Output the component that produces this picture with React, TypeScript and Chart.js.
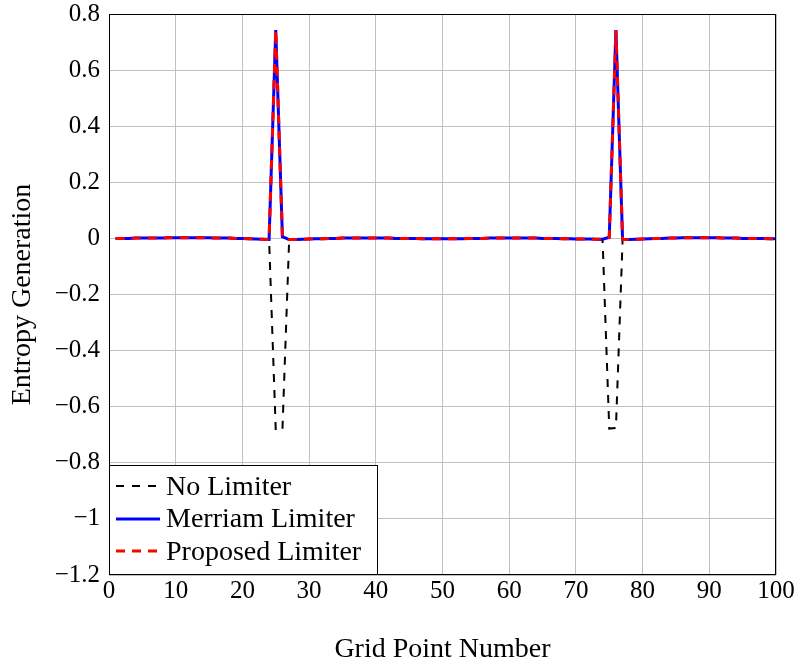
import React, { useEffect, useRef } from 'react';
import { Chart, registerables } from 'chart.js';

Chart.register(...registerables);

// Grid point indices along the x axis
const gridPoints = [
  1, 2, 3, 4, 5, 6, 7, 8, 9, 10,
  11, 12, 13, 14, 15, 16, 17, 18, 19, 20,
  21, 22, 23, 24, 25, 26, 27, 28, 29, 30,
  31, 32, 33, 34, 35, 36, 37, 38, 39, 40,
  41, 42, 43, 44, 45, 46, 47, 48, 49, 50,
  51, 52, 53, 54, 55, 56, 57, 58, 59, 60,
  61, 62, 63, 64, 65, 66, 67, 68, 69, 70,
  71, 72, 73, 74, 75, 76, 77, 78, 79, 80,
  81, 82, 83, 84, 85, 86, 87, 88, 89, 90,
  91, 92, 93, 94, 95, 96, 97, 98, 99, 100,
];

// Entropy generation without any limiter
const noLimiter = [
  0, 0, 0, 0.001, 0.001, 0.001, 0.001, 0.001, 0.002, 0.002,
  0.002, 0.002, 0.002, 0.002, 0.002, 0.001, 0.001, 0.001, 0, 0,
  -0.001, -0.002, -0.003, -0.004, -0.683, -0.683, -0.012, -0.004, -0.003, -0.002,
  -0.001, -0.001, 0, 0, 0.001, 0.001, 0.001, 0.001, 0.001, 0.001,
  0.001, 0.001, 0, 0, 0, 0, -0.001, -0.001, -0.001, -0.001,
  -0.001, -0.001, -0.001, 0, 0, 0, 0.001, 0.001, 0.001, 0.001,
  0.001, 0.001, 0.001, 0.001, 0, 0, 0, -0.001, -0.001, -0.002,
  -0.002, -0.002, -0.003, -0.006, -0.678, -0.676, -0.006, -0.004, -0.003, -0.002,
  -0.001, 0, 0, 0.001, 0.001, 0.002, 0.002, 0.002, 0.002, 0.002,
  0.002, 0.001, 0.001, 0.001, 0, 0, 0, 0, -0.001, -0.001,
];

// Entropy generation with the Merriam limiter
const merriamLimiter = [
  0, 0, 0, 0.001, 0.001, 0.001, 0.001, 0.001, 0.002, 0.002,
  0.002, 0.002, 0.002, 0.002, 0.002, 0.001, 0.001, 0.001, 0, 0,
  -0.001, -0.002, -0.003, -0.004, 0.743, 0.006, -0.004, -0.004, -0.003, -0.002,
  -0.001, -0.001, 0, 0, 0.001, 0.001, 0.001, 0.001, 0.001, 0.001,
  0.001, 0.001, 0, 0, 0, 0, -0.001, -0.001, -0.001, -0.001,
  -0.001, -0.001, -0.001, 0, 0, 0, 0.001, 0.001, 0.001, 0.001,
  0.001, 0.001, 0.001, 0.001, 0, 0, 0, -0.001, -0.001, -0.002,
  -0.002, -0.002, -0.003, -0.003, 0.004, 0.743, -0.004, -0.004, -0.003, -0.002,
  -0.001, 0, 0, 0.001, 0.001, 0.002, 0.002, 0.002, 0.002, 0.002,
  0.002, 0.001, 0.001, 0.001, 0, 0, 0, 0, -0.001, -0.001,
];

// Entropy generation with the proposed limiter
const proposedLimiter = [
  0, 0, 0, 0.001, 0.001, 0.001, 0.001, 0.001, 0.002, 0.002,
  0.002, 0.002, 0.002, 0.002, 0.002, 0.001, 0.001, 0.001, 0, 0,
  -0.001, -0.002, -0.003, -0.004, 0.743, 0.006, -0.004, -0.004, -0.003, -0.002,
  -0.001, -0.001, 0, 0, 0.001, 0.001, 0.001, 0.001, 0.001, 0.001,
  0.001, 0.001, 0, 0, 0, 0, -0.001, -0.001, -0.001, -0.001,
  -0.001, -0.001, -0.001, 0, 0, 0, 0.001, 0.001, 0.001, 0.001,
  0.001, 0.001, 0.001, 0.001, 0, 0, 0, -0.001, -0.001, -0.002,
  -0.002, -0.002, -0.003, -0.003, 0.004, 0.743, -0.004, -0.004, -0.003, -0.002,
  -0.001, 0, 0, 0.001, 0.001, 0.002, 0.002, 0.002, 0.002, 0.002,
  0.002, 0.001, 0.001, 0.001, 0, 0, 0, 0, -0.001, -0.001,
];

const xTickValues = [0, 10, 20, 30, 40, 50, 60, 70, 80, 90, 100];
const yTickValues = [0.8, 0.6, 0.4, 0.2, 0, -0.2, -0.4, -0.6, -0.8, -1, -1.2];

const seriesNames = ['No Limiter', 'Merriam Limiter', 'Proposed Limiter'];

const FONT = "'Liberation Serif', 'Times New Roman', serif";

const toPoints = (ys: number[]) => gridPoints.map((x, i) => ({ x, y: ys[i] }));

const formatTick = (v: number) => {
  const r = Math.round(v * 10) / 10;
  if (r === 0) return '0';
  const s = String(Math.abs(r));
  return r < 0 ? '\u2212' + s : s;
};

// Draws the closed plot frame and the boxed key in the lower-left corner
const frameAndKey = {
  id: 'frameAndKey',
  afterDraw(chart: any) {
    const { ctx, chartArea: a } = chart;
    ctx.save();
    ctx.strokeStyle = '#000';
    ctx.lineWidth = 1;
    ctx.strokeRect(a.left + 0.5, a.top + 0.5, a.right - a.left - 1, a.bottom - a.top - 1);

    const boxW = 269;
    const boxH = 110;
    const bx = a.left;
    const by = a.bottom - boxH;
    ctx.fillStyle = '#fff';
    ctx.fillRect(bx, by, boxW, boxH);
    ctx.strokeRect(bx + 0.5, by + 0.5, boxW - 1, boxH - 1);

    const lineRows = [21, 54, 86];
    const textRows = [29.5, 62, 95];
    chart.data.datasets.forEach((ds: any, i: number) => {
      const y = by + lineRows[i];
      ctx.beginPath();
      ctx.strokeStyle = ds.borderColor;
      ctx.lineWidth = ds.borderWidth;
      ctx.setLineDash(ds.borderDash || []);
      ctx.moveTo(bx + 7, y);
      ctx.lineTo(bx + 51, y);
      ctx.stroke();
      ctx.setLineDash([]);
      ctx.fillStyle = '#000';
      ctx.font = `28px ${FONT}`;
      ctx.textBaseline = 'alphabetic';
      ctx.textAlign = 'left';
      ctx.fillText(ds.label, bx + 57, by + textRows[i]);
    });
    ctx.restore();
  },
};

export default function App() {
  const canvasRef = useRef<HTMLCanvasElement | null>(null);

  useEffect(() => {
    document.body.style.margin = '0';
    const canvas = canvasRef.current;
    if (!canvas) return;

    const chart = new Chart(canvas, {
      type: 'line',
      data: {
        datasets: [
          {
            label: seriesNames[0],
            data: toPoints(noLimiter),
            borderColor: '#000',
            borderWidth: 2,
            borderDash: [8, 8],
            pointRadius: 0,
            tension: 0,
            order: 2,
          },
          {
            label: seriesNames[1],
            data: toPoints(merriamLimiter),
            borderColor: '#0000ff',
            borderWidth: 3,
            pointRadius: 0,
            tension: 0,
            order: 1,
          },
          {
            label: seriesNames[2],
            data: toPoints(proposedLimiter),
            borderColor: '#ff0000',
            borderWidth: 3,
            borderDash: [9, 7],
            pointRadius: 0,
            tension: 0,
            order: 0,
          },
        ],
      },
      options: {
        responsive: false,
        animation: false,
        devicePixelRatio: 1,
        layout: { padding: { top: 14, right: 22, left: 0, bottom: 0 } },
        plugins: {
          legend: { display: false },
          tooltip: { enabled: false },
        },
        scales: {
          x: {
            type: 'linear',
            min: 0,
            max: 100,
            afterFit: (s: any) => {
              s.height = 90;
            },
            afterBuildTicks: (s: any) => {
              s.ticks = xTickValues.map((value) => ({ value }));
            },
            ticks: {
              color: '#000',
              font: { family: FONT, size: 25, lineHeight: 1.0 },
              padding: 0,
              maxRotation: 0,
              callback: (v: any) => String(v),
            },
            grid: {
              color: '#bfbfbf',
              lineWidth: 1,
              drawTicks: true,
              tickLength: 4,
              tickColor: 'rgba(0,0,0,0)',
            },
            border: { display: false },
            title: {
              display: true,
              text: 'Grid Point Number',
              color: '#000',
              font: { family: FONT, size: 28, lineHeight: 1.1 },
              padding: { top: 0, bottom: 0 },
            },
          },
          y: {
            type: 'linear',
            min: -1.2,
            max: 0.8,
            afterFit: (s: any) => {
              s.width = 109;
            },
            afterBuildTicks: (s: any) => {
              s.ticks = yTickValues.map((value) => ({ value }));
            },
            ticks: {
              color: '#000',
              font: { family: FONT, size: 25, lineHeight: 1.0 },
              padding: 0,
              callback: (v: any) => formatTick(Number(v)),
            },
            grid: {
              color: '#bfbfbf',
              lineWidth: 1,
              drawTicks: true,
              tickLength: 9,
              tickColor: 'rgba(0,0,0,0)',
            },
            border: { display: false },
            title: {
              display: true,
              text: 'Entropy Generation',
              color: '#000',
              font: { family: FONT, size: 28, lineHeight: 1.1 },
              padding: { top: 7, bottom: 0 },
            },
          },
        },
      },
      plugins: [frameAndKey],
    });

    return () => chart.destroy();
  }, []);

  return (
    <div style={{ position: 'absolute', left: 0, top: 0, width: 798, height: 665, background: '#fff' }}>
      <canvas ref={canvasRef} width={798} height={665} style={{ width: 798, height: 665, display: 'block' }} />
    </div>
  );
}
